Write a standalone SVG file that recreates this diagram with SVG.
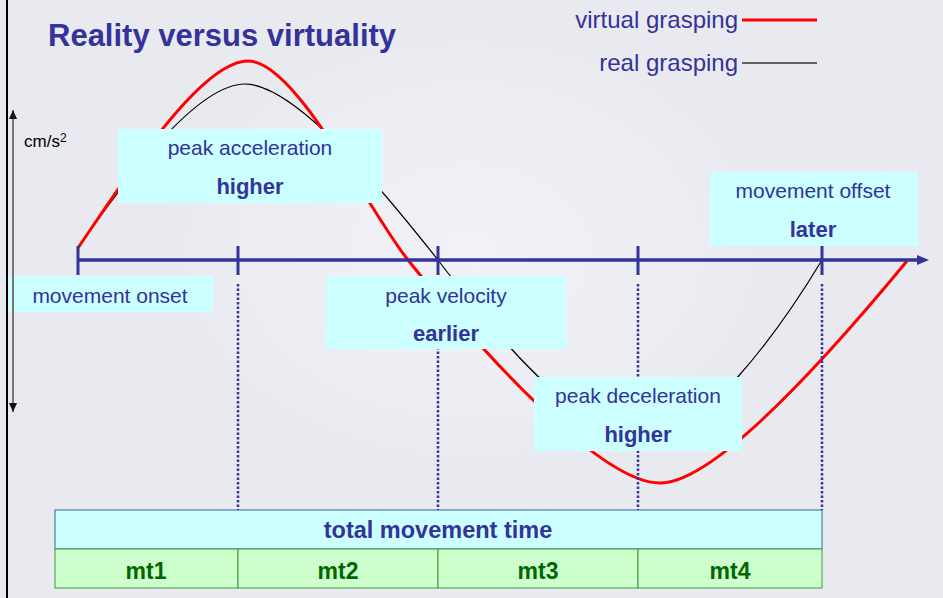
<svg xmlns="http://www.w3.org/2000/svg" width="943" height="598" viewBox="0 0 943 598">
  <defs>
    <style>
      .lbl { font-family: "Liberation Sans", Arial, sans-serif; font-size: 21px; fill: #333399; text-anchor: middle; }
      .lblb { font-family: "Liberation Sans", Arial, sans-serif; font-size: 22px; font-weight: bold; fill: #333399; text-anchor: middle; }
      .box { fill: #ccffff; }
      .tick { stroke: #333399; stroke-width: 3; }
      .dots { stroke: #333399; stroke-width: 2.5; stroke-dasharray: 2.5 2; }
      .cell { fill: #ccffcc; stroke: #3d9a3d; stroke-width: 1; }
      .cellt { font-family: "Liberation Sans", Arial, sans-serif; font-size: 23px; font-weight: bold; fill: #006600; text-anchor: middle; }
      .legt { font-family: "Liberation Sans", Arial, sans-serif; font-size: 24px; fill: #333399; text-anchor: end; }
    </style>
    <marker id="axisHead" viewBox="0 0 12 10" refX="1" refY="5" markerWidth="12" markerHeight="10" markerUnits="userSpaceOnUse" orient="auto">
      <path d="M0,0 L12,5 L0,10 z" fill="#333399"/>
    </marker>
    <marker id="tip" viewBox="0 0 9 8" refX="9" refY="4" markerWidth="9" markerHeight="8" markerUnits="userSpaceOnUse" orient="auto-start-reverse">
      <path d="M0,0 L9,4 L0,8 z" fill="#111"/>
    </marker>
    <radialGradient id="haze" cx="0.5" cy="0.5" r="0.5">
      <stop offset="0" stop-color="#f2f3f8" stop-opacity="0.9"/>
      <stop offset="0.7" stop-color="#eef0f6" stop-opacity="0.5"/>
      <stop offset="1" stop-color="#e8eaf0" stop-opacity="0"/>
    </radialGradient>
  </defs>

  <!-- page background -->
  <rect x="0" y="0" width="943" height="598" fill="#e8eaf0"/>
  <ellipse cx="470" cy="250" rx="330" ry="240" fill="url(#haze)"/>
  <line x1="7" y1="0" x2="7" y2="598" stroke="#000" stroke-width="2"/>

  <!-- acceleration curves -->
  <g id="curves" fill="none">
    <path id="real-curve" d="M78,247 C122,185 195,84 245,84 C300,84 400,212 438,260 C510,355 590,440 645,440 C700,440 780,330 822,260" stroke="#000" stroke-width="1.2"/>
    <path id="virtual-curve" d="M78,248 C123,182 200,61 248,61 C296,61 368,210 408,260 C480,350 600,483 660,483 C720,483 850,330 907,261" stroke="#ff0000" stroke-width="3"/>
  </g>

  <!-- time axis, ticks and phase boundaries -->
  <g id="connectors">
    <line x1="78" y1="260" x2="918" y2="260" stroke="#333399" stroke-width="3.5" marker-end="url(#axisHead)"/>
    <line class="tick" x1="78" y1="246" x2="78" y2="275"/>
    <line class="tick" x1="238" y1="246" x2="238" y2="275"/>
    <line class="tick" x1="438" y1="246" x2="438" y2="275"/>
    <line class="tick" x1="638" y1="246" x2="638" y2="275"/>
    <line class="tick" x1="822" y1="246" x2="822" y2="275"/>
    <line class="dots" x1="238" y1="284" x2="238" y2="510"/>
    <line class="dots" x1="438" y1="284" x2="438" y2="510"/>
    <line class="dots" x1="638" y1="284" x2="638" y2="510"/>
    <line class="dots" x1="822" y1="284" x2="822" y2="510"/>
  </g>

  <!-- callouts -->
  <g id="peak-acceleration">
    <rect class="box" x="118" y="129" width="264" height="74"/>
    <text class="lbl" x="250" y="155">peak acceleration</text>
    <text class="lblb" x="250" y="194">higher</text>
  </g>
  <g id="movement-onset">
    <rect class="box" x="8" y="276" width="205" height="36"/>
    <text class="lbl" x="110" y="303">movement onset</text>
  </g>
  <g id="peak-velocity">
    <rect class="box" x="326" y="276" width="240" height="73"/>
    <text class="lbl" x="446" y="303">peak velocity</text>
    <text class="lblb" x="446" y="341">earlier</text>
  </g>
  <g id="peak-deceleration">
    <rect class="box" x="534" y="377" width="208" height="74"/>
    <text class="lbl" x="638" y="403">peak deceleration</text>
    <text class="lblb" x="638" y="442">higher</text>
  </g>
  <g id="movement-offset">
    <rect class="box" x="710" y="172" width="208" height="74"/>
    <text class="lbl" x="813" y="198">movement offset</text>
    <text class="lblb" x="813" y="237">later</text>
  </g>

  <!-- vertical scale -->
  <g id="y-axis">
    <line x1="13" y1="110" x2="13" y2="412" stroke="#777" stroke-width="2" marker-start="url(#tip)" marker-end="url(#tip)"/>
    <text x="24" y="147" font-family="Liberation Sans, Arial, sans-serif" font-size="17" fill="#000">cm/s<tspan font-size="12" dy="-5">2</tspan></text>
  </g>

  <!-- heading and key -->
  <g id="title">
    <text x="48" y="46" font-family="Liberation Sans, Arial, sans-serif" font-size="31" font-weight="bold" fill="#333399">Reality versus virtuality</text>
  </g>
  <g id="legend">
    <text class="legt" x="738" y="28">virtual grasping</text>
    <line x1="742" y1="20" x2="817" y2="20" stroke="#ff0000" stroke-width="3"/>
    <text class="legt" x="738" y="71">real grasping</text>
    <line x1="742" y1="63" x2="817" y2="63" stroke="#333" stroke-width="1.5"/>
  </g>

  <!-- movement time bar -->
  <g id="total-movement-time">
    <rect x="55" y="510" width="767" height="39" fill="#ccffff" stroke="#336699" stroke-width="1"/>
    <text x="438" y="538" font-family="Liberation Sans, Arial, sans-serif" font-size="23.5" font-weight="bold" fill="#333399" text-anchor="middle">total movement time</text>
  </g>
  <g id="mt1">
    <rect class="cell" x="55" y="549" width="183" height="39"/>
    <text class="cellt" x="146" y="579">mt1</text>
  </g>
  <g id="mt2">
    <rect class="cell" x="238" y="549" width="200" height="39"/>
    <text class="cellt" x="338" y="579">mt2</text>
  </g>
  <g id="mt3">
    <rect class="cell" x="438" y="549" width="200" height="39"/>
    <text class="cellt" x="538" y="579">mt3</text>
  </g>
  <g id="mt4">
    <rect class="cell" x="638" y="549" width="184" height="39"/>
    <text class="cellt" x="730" y="579">mt4</text>
  </g>
</svg>
